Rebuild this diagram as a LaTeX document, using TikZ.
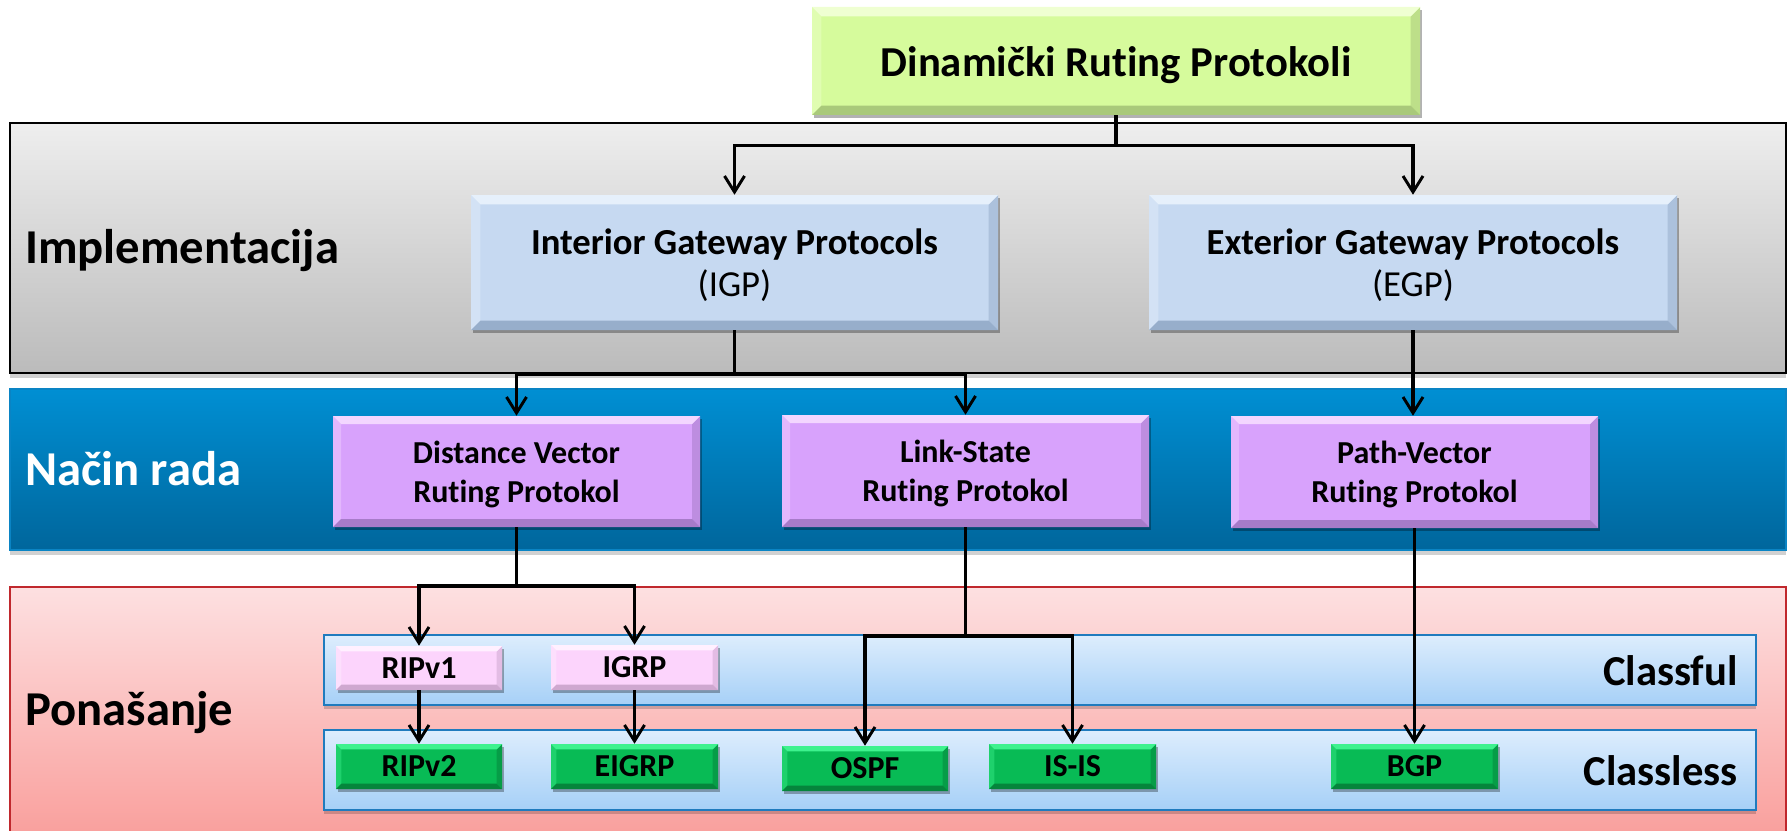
\documentclass[tikz,border=0pt]{standalone}
\usepackage{fontspec}
\setmainfont[Ligatures={NoCommon}]{Carlito}
\usetikzlibrary{arrows.meta,shadows,fit,calc}

% box colours: fill, bevel highlight, bevel shade
\definecolor{titlefill}{HTML}{D6FB9C}
\definecolor{titlelight}{HTML}{EFFFD2}
\definecolor{titledark}{HTML}{A9C97A}
\definecolor{gwfill}{HTML}{C6D9F1}
\definecolor{gwlight}{HTML}{E6F0FB}
\definecolor{gwdark}{HTML}{97AECB}
\definecolor{modefill}{HTML}{D8A2FC}
\definecolor{modelight}{HTML}{F3D6FF}
\definecolor{modedark}{HTML}{A77BC9}
\definecolor{cfulfill}{HTML}{FCD4FC}
\definecolor{cfullight}{HTML}{FFF0FF}
\definecolor{cfuldark}{HTML}{CFA8D0}
\definecolor{clessfill}{HTML}{08BB55}
\definecolor{clesslight}{HTML}{3EF28E}
\definecolor{clessdark}{HTML}{05853C}
% band colours
\definecolor{grayTop}{HTML}{EEEEEE}
\definecolor{grayBot}{HTML}{BBBBBB}
\definecolor{blueTop}{HTML}{008FD3}
\definecolor{blueBot}{HTML}{00669C}
\definecolor{blueEdge}{HTML}{0A84C4}
\definecolor{pinkTop}{HTML}{FDE0E1}
\definecolor{pinkBot}{HTML}{F99D9A}
\definecolor{pinkEdge}{HTML}{C0282D}
\definecolor{laneTop}{HTML}{DDEDFD}
\definecolor{laneBot}{HTML}{A6D0F7}
\definecolor{laneEdge}{HTML}{1F7BBE}

\tikzset{
  bevel/.style n args={4}{fill=#1, path picture={
      \def\bb{path picture bounding box}
      \fill[#1!45!#3] (\bb.north east) -- ([xshift=-#4,yshift=-#4]\bb.north east)
                   -- ([xshift=-#4,yshift=#4]\bb.south east) -- (\bb.south east) -- cycle;
      \fill[#1!60!#2] (\bb.north west) -- ([xshift=#4,yshift=-#4]\bb.north west)
                   -- ([xshift=#4,yshift=#4]\bb.south west) -- (\bb.south west) -- cycle;
      \fill[#2] (\bb.north west) -- (\bb.north east) -- ([xshift=-#4,yshift=-#4]\bb.north east)
                   -- ([xshift=#4,yshift=-#4]\bb.north west) -- cycle;
      \fill[#3] (\bb.south west) -- (\bb.south east) -- ([xshift=-#4,yshift=#4]\bb.south east)
                   -- ([xshift=#4,yshift=#4]\bb.south west) -- cycle;
    }},
  % box size given in pixels of the 1791 x 831 canvas
  sz/.style 2 args={minimum width=#1*0.75pt, minimum height=#2*0.75pt},
  boxbase/.style={inner sep=0pt, align=center,
    drop shadow={shadow xshift=1.6pt, shadow yshift=-2.2pt, opacity=0.3, fill=black}},
  titlebox/.style={boxbase, bevel={titlefill}{titlelight}{titledark}{7pt},
    font=\fontsize{32}{38}\selectfont\bfseries, text height=29pt, text depth=5pt},
  gwbox/.style={boxbase, bevel={gwfill}{gwlight}{gwdark}{7pt},
    font=\fontsize{27.5}{31}\selectfont, text depth=-2.4pt},
  modebox/.style={boxbase, bevel={modefill}{modelight}{modedark}{6pt},
    font=\fontsize{24}{29}\selectfont\bfseries, text depth=-3pt},
  cfulbox/.style={boxbase, bevel={cfulfill}{cfullight}{cfuldark}{4pt},
    font=\fontsize{24}{28}\selectfont\bfseries},
  clessbox/.style={boxbase, bevel={clessfill}{clesslight}{clessdark}{4pt},
    font=\fontsize{24}{28}\selectfont\bfseries},
  band/.style={inner sep=0pt, line width=1.5pt,
    drop shadow={shadow xshift=0pt, shadow yshift=-3.5pt, opacity=0.18, fill=black}},
  lane/.style={inner sep=0pt, line width=1.5pt, draw=laneEdge,
    top color=laneTop, bottom color=laneBot,
    drop shadow={shadow xshift=0pt, shadow yshift=-3pt, opacity=0.18, fill=black}},
  bandlabel/.style={inner sep=0pt, anchor=base west, font=\fontsize{36.5}{42}\selectfont\bfseries},
  lanelabel/.style={inner sep=0pt, anchor=base east, font=\fontsize{32}{38}\selectfont\bfseries},
  conn/.style={line width=2.4pt, draw=black},
  arr/.style={conn, -{Straight Barb[length=12pt,width=15pt,line width=2.2pt]}},
}

\begin{document}
\begin{tikzpicture}[x=0.75pt, y=-0.75pt]
\useasboundingbox (0,0) rectangle (1791,831);
\clip (0,0) rectangle (1791,831);

% ---- horizontal bands ----
\node[band, draw=black, top color=grayTop, bottom color=grayBot,
      fit={(10,123) (1786,373)}] (implBand) {};
\node[band, draw=blueEdge, top color=blueTop, bottom color=blueBot,
      fit={(10,389) (1786,550)}] (modeBand) {};
\node[band, draw=pinkEdge, top color=pinkTop, bottom color=pinkBot,
      fit={(10,587) (1786,845)}] (behBand) {};
\node[lane, fit={(324,635) (1756,705)}] (fulLane) {};
\node[lane, fit={(324,730) (1756,810)}] (lessLane) {};

% ---- band labels ----
\node[bandlabel] (implLbl) at (25,263) {Implementacija};
\node[bandlabel, text=white] (modeLbl) at (25,485) {Način rada};
\node[bandlabel] (behLbl) at (25,725) {Ponašanje};
\node[lanelabel] (fulLbl) at (1738,685) {Classful};
\node[lanelabel] (lessLbl) at (1738,785) {Classless};

% ---- protocol boxes ----
\node[titlebox, sz={608}{108}] (top) at (1116,61) {Dinamički Ruting Protokoli};

\node[gwbox, sz={527}{135}] (igp) at (734.5,262.5)
  {\textbf{Interior Gateway Protocols}\\(IGP)};
\node[gwbox, sz={528}{135}] (egp) at (1413,262.5)
  {\textbf{Exterior Gateway Protocols}\\(EGP)};

\node[modebox, sz={367}{111}] (dv) at (516.5,471.5) {Distance Vector\\Ruting Protokol};
\node[modebox, sz={367}{112}] (ls) at (965.5,471) {Link-State\\Ruting Protokol};
\node[modebox, sz={367}{112}] (pv) at (1414.5,472) {Path-Vector\\Ruting Protokol};

\node[cfulbox, sz={166}{44}] (ripa) at (419,668) {RIPv1};
\node[cfulbox, sz={167}{45}] (igrp) at (634.5,667.5) {IGRP};

\node[clessbox, sz={166}{45}] (ripb) at (419,766.5) {RIPv2};
\node[clessbox, sz={167}{45}] (eigrp) at (634.5,766.5) {EIGRP};
\node[clessbox, sz={166}{45}] (ospf) at (865,768.5) {OSPF};
\node[clessbox, sz={167}{45}] (isis) at (1072.5,766.5) {IS-IS};
\node[clessbox, sz={167}{45}] (bgp) at (1414.5,766.5) {BGP};

% ---- connectors ----
\coordinate (jTop) at ($(top.south)+(0,30)$);
\draw[conn] (top.south) -- (jTop);
\draw[arr] (jTop) -| (igp.north);
\draw[arr] (jTop) -| (egp.north);

\coordinate (jIgp) at (igp.south |- implBand.south);
\draw[conn] (igp.south) -- (jIgp);
\draw[arr] (jIgp) -| (dv.north);
\draw[arr] (jIgp) -| (ls.north);
\draw[arr] (egp.south) -- (egp.south |- pv.north);

\coordinate (jDv) at (dv.south |- behBand.north);
\draw[conn] (dv.south) -- (jDv);
\draw[arr] (jDv) -| (ripa.north);
\draw[arr] (jDv) -| (igrp.north);

\coordinate (jLs) at ($(ls.south |- fulLane.north)+(0,2)$);
\draw[conn] (ls.south) -- (jLs);
\draw[arr] (jLs) -| (ospf.north);
\draw[arr] (jLs) -| (isis.north);

\draw[arr] (pv.south) -- (pv.south |- bgp.north);
\draw[arr] (ripa.south) -- (ripb.north);
\draw[arr] (igrp.south) -- (eigrp.north);
\end{tikzpicture}
\end{document}
